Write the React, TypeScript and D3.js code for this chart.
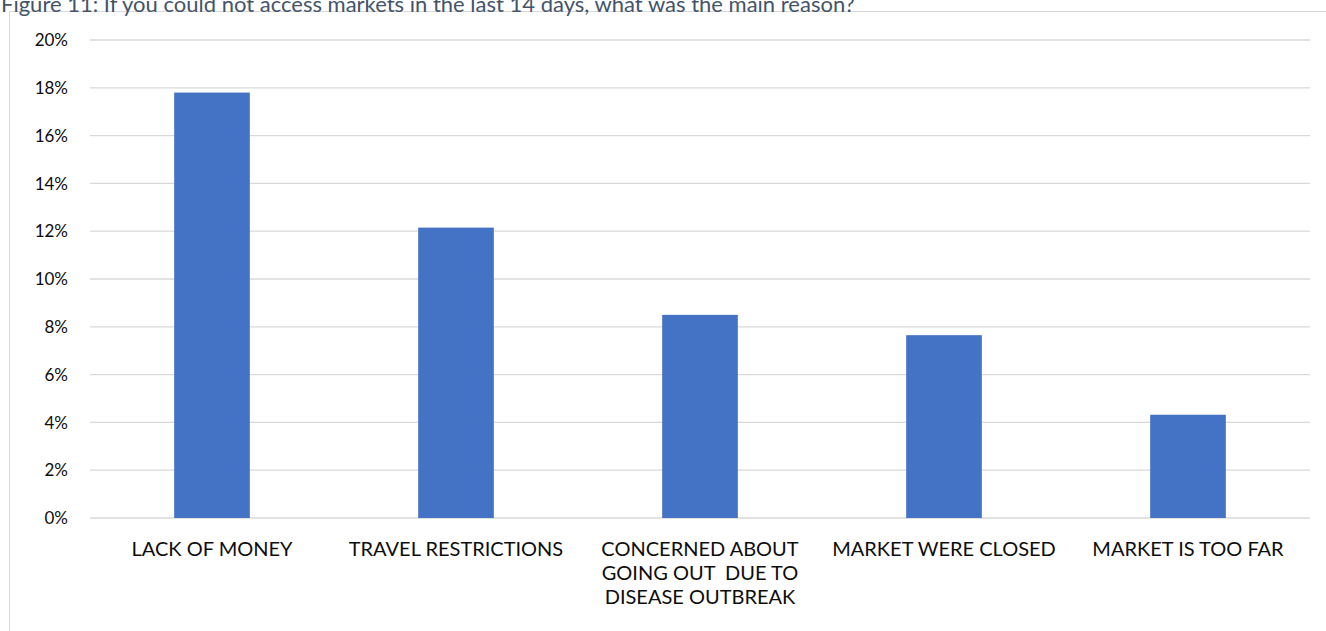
import React from "react";
import * as d3 from "d3";

const categories: string[][] = [
  ["LACK OF MONEY"],
  ["TRAVEL RESTRICTIONS"],
  ["CONCERNED ABOUT", "GOING OUT  DUE TO", "DISEASE OUTBREAK"],
  ["MARKET WERE CLOSED"],
  ["MARKET IS TOO FAR"],
];
const values: number[] = [0.178, 0.1215, 0.085, 0.0765, 0.0432];
const yTicks: number[] = [0, 0.02, 0.04, 0.06, 0.08, 0.1, 0.12, 0.14, 0.16, 0.18, 0.2];
const title = "Figure 11: If you could not access markets in the last 14 days, what was the main reason?";

const W = 1326;
const H = 631;
const FONT = "Lato, 'Open Sans', 'Liberation Sans', sans-serif";

export default function App() {
  const left = 90;
  const right = 1310;
  const top = 40;
  const bottom = 518;
  const x = d3
    .scaleBand<number>()
    .domain(categories.map((_, i) => i))
    .range([left, right])
    .paddingInner(0.69)
    .paddingOuter(0.345);
  const y = d3.scaleLinear().domain([0, 0.2]).range([bottom, top]);
  const fmt = d3.format(".0%");

  return (
    <svg
      width={W}
      height={H}
      style={{ position: "absolute", left: 0, top: 0, background: "#fff" }}
      fontFamily={FONT}
    >
      <rect x={0} y={0} width={W} height={H} fill="#fff" />
      {/* chart frame */}
      <path d={`M9.5,${H} V11.5 H${W}`} fill="none" stroke="#D9D9D9" strokeWidth={1} />
      <text x={1} y={12} fontSize={22} fill="#44546A" fontFamily={FONT}>
        {title}
      </text>
      {yTicks.map((t) => (
        <g key={t}>
          <line x1={left} x2={right} y1={y(t)} y2={y(t)} stroke="#D9D9D9" strokeWidth={1.3} />
          <text x={68} y={y(t)} dy="0.36em" textAnchor="end" fontSize={17} fill="#0D0D0D">
            {fmt(t)}
          </text>
        </g>
      ))}
      {values.map((v, i) => (
        <rect
          key={i}
          x={x(i)}
          y={y(v)}
          width={x.bandwidth()}
          height={y(0) - y(v)}
          fill="#4472C4"
        />
      ))}
      {categories.map((lines, i) => (
        <text
          key={i}
          x={(x(i) as number) + x.bandwidth() / 2}
          y={556}
          textAnchor="middle"
          fontSize={20}
          fill="#0D0D0D"
        >
          {lines.map((l, j) => (
            <tspan key={j} x={(x(i) as number) + x.bandwidth() / 2} dy={j === 0 ? 0 : 24} style={{ whiteSpace: "pre" }}>
              {l}
            </tspan>
          ))}
        </text>
      ))}
    </svg>
  );
}
